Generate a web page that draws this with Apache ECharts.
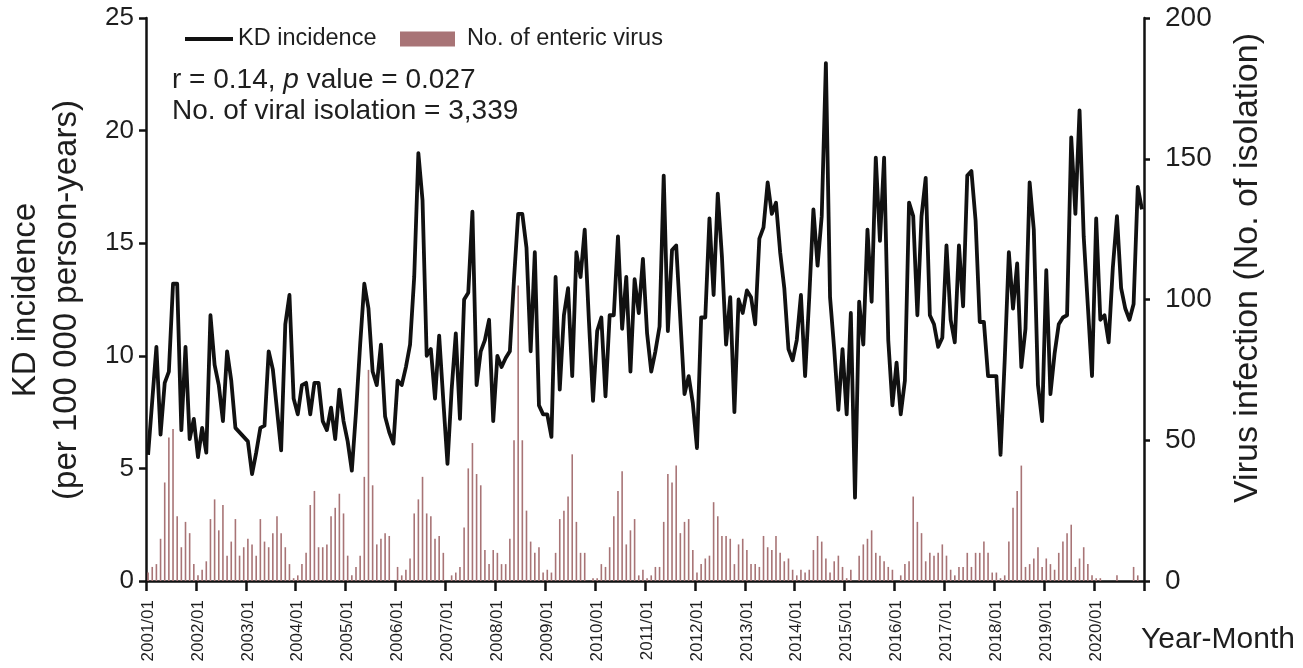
<!DOCTYPE html>
<html>
<head>
<meta charset="utf-8">
<script src="https://cdn.jsdelivr.net/npm/echarts@6/dist/echarts.min.js"></script>
<style>
html,body{margin:0;padding:0;background:#fff;}
#chart{width:1303px;height:668px;}
</style>
</head>
<body>
<div id="chart"></div>
<script>
// Years covered (monthly data, Jan..Dec each year)
const years = [2001,2002,2003,2004,2005,2006,2007,2008,2009,2010,2011,2012,2013,2014,2015,2016,2017,2018,2019,2020];
const months = ['01','02','03','04','05','06','07','08','09','10','11','12'];

// KD incidence (per 100 000 person-years), one row per year
const kdIncidence = [
  5.6, 8.0, 10.4, 6.5, 8.8, 9.3, 13.2, 13.2, 6.7, 10.4, 6.3, 7.2,
  5.5, 6.8, 5.7, 11.8, 9.6, 8.7, 7.1, 10.2, 8.9, 6.8, 6.6, 6.4,
  6.2, 4.75, 5.7, 6.8, 6.9, 10.2, 9.4, 7.6, 5.8, 11.4, 12.7, 8.1,
  7.4, 8.7, 8.8, 7.4, 8.8, 8.8, 7.1, 6.7, 7.7, 6.3, 8.5, 7.1,
  6.2, 4.9, 7.5, 10.5, 13.2, 12.1, 9.3, 8.7, 10.5, 7.3, 6.6, 6.1,
  8.9, 8.7, 9.5, 10.5, 13.5, 19.0, 16.9, 10.0, 10.3, 8.1, 10.9, 8.0,
  5.2, 8.5, 11.0, 7.2, 12.5, 12.8, 16.4, 8.7, 10.2, 10.7, 11.6, 7.1,
  10.0, 9.5, 9.9, 10.2, 13.4, 16.3, 16.3, 14.8, 10.2, 14.6, 7.8, 7.4,
  7.4, 6.4, 13.5, 8.5, 11.8, 13.0, 9.1, 14.6, 13.5, 15.6, 11.6, 8.0,
  11.1, 11.7, 8.2, 11.8, 11.8, 15.3, 11.2, 13.5, 9.3, 13.4, 11.9, 14.3,
  11.0, 9.3, 10.2, 11.3, 18.0, 11.1, 14.7, 14.9, 11.6, 8.3, 9.1, 7.9,
  5.9, 11.7, 11.7, 16.1, 12.7, 17.2, 14.4, 10.5, 12.6, 7.5, 12.5, 11.9,
  12.9, 12.6, 11.4, 15.2, 15.7, 17.7, 16.3, 16.8, 14.6, 13.0, 10.3, 9.8,
  10.7, 12.7, 9.1, 12.6, 16.5, 14.0, 16.2, 23.0, 12.6, 10.3, 7.6, 10.3,
  7.4, 11.9, 3.7, 12.4, 10.5, 15.6, 12.4, 18.8, 15.1, 18.8, 10.7, 7.8,
  9.7, 7.4, 8.9, 16.8, 16.2, 11.8, 16.2, 17.9, 11.8, 11.4, 10.4, 10.8,
  14.9, 11.6, 10.6, 14.9, 12.2, 18.0, 18.2, 16.0, 11.5, 11.5, 9.1, 9.1,
  9.1, 5.6, 9.8, 14.6, 12.1, 14.1, 9.5, 11.2, 17.7, 15.6, 8.7, 7.1,
  13.8, 8.3, 10.1, 11.4, 11.7, 11.8, 19.7, 16.3, 20.9, 15.3, 12.2, 9.1,
  16.1, 11.6, 11.8, 10.6, 13.9, 16.2, 13.0, 12.1, 11.6, 12.3, 17.5, 16.5
];

// No. of enteric virus isolations per month, one row per year
const virusCount = [
  3, 5, 6, 15, 35, 51, 54, 23, 12, 21, 17, 6,
  2, 4, 7, 22, 29, 18, 27, 9, 14, 22, 9, 12,
  15, 13, 9, 22, 14, 12, 17, 23, 17, 12, 6, 1,
  2, 6, 10, 27, 32, 12, 12, 13, 23, 26, 31, 24,
  9, 2, 5, 9, 37, 75, 34, 13, 15, 17, 16, 0,
  5, 2, 4, 8, 24, 29, 37, 24, 23, 15, 16, 10,
  0, 2, 3, 5, 19, 40, 49, 38, 34, 11, 6, 11,
  10, 6, 6, 15, 50, 105, 50, 25, 14, 10, 12, 3,
  4, 3, 10, 22, 25, 30, 45, 21, 10, 10, 0, 1,
  1, 6, 5, 12, 23, 32, 39, 13, 18, 22, 2, 4,
  1, 2, 5, 5, 21, 38, 35, 41, 17, 21, 22, 11,
  3, 6, 8, 9, 28, 23, 16, 16, 15, 6, 13, 15,
  11, 6, 6, 5, 16, 12, 11, 16, 10, 7, 8, 4,
  2, 4, 3, 4, 11, 16, 14, 8, 3, 7, 9, 5,
  1, 4, 0, 9, 13, 15, 18, 10, 9, 7, 5, 4,
  0, 2, 6, 7, 30, 21, 17, 7, 10, 9, 10, 13,
  9, 4, 2, 5, 5, 10, 5, 10, 10, 14, 10, 3,
  3, 1, 2, 14, 26, 32, 41, 5, 6, 8, 12, 5,
  8, 6, 4, 10, 14, 17, 20, 5, 8, 12, 6, 2,
  1, 1, 0, 0, 0, 2, 0, 0, 0, 5, 2, 0
];

const leftTicks = {min: 0, max: 25, interval: 5};
const rightTicks = {min: 0, max: 200, interval: 50};

const categories = [];
years.forEach(y => months.forEach(m => categories.push(y + '/' + m)));

const FONT = '"Liberation Sans", Arial, Helvetica, sans-serif';
const TXT = '#1e1e1e';
const BAR = '#a87476';

const chart = echarts.init(document.getElementById('chart'), null, {renderer: 'canvas'});
chart.setOption({
  animation: false,
  backgroundColor: '#ffffff',
  textStyle: {fontFamily: FONT, color: TXT},
  grid: {left: 146, right: 159, top: 18, bottom: 87, containLabel: false},
  legend: [
    {
      left: 185, top: 27, padding: 0,
      itemWidth: 48, itemHeight: 4,
      textStyle: {fontSize: 23.5, lineHeight: 24, color: TXT, fontFamily: FONT},
      data: [{name: 'KD incidence', icon: 'rect', itemStyle: {color: '#111'}}]
    },
    {
      left: 400, top: 27, padding: 0,
      itemWidth: 55, itemHeight: 15,
      textStyle: {fontSize: 23.5, lineHeight: 24, color: TXT, fontFamily: FONT, padding: [0, 0, 0, 7]},
      data: [{name: 'No. of enteric virus', icon: 'rect'}]
    }
  ],
  xAxis: {
    type: 'category',
    data: categories,
    boundaryGap: true,
    axisLine: {show: true, lineStyle: {color: '#111', width: 2.5}},
    axisTick: {show: true, length: 10, lineStyle: {color: '#111', width: 2.5},
      interval: (idx) => idx % 12 === 0},
    axisLabel: {rotate: 90, fontSize: 17, color: TXT, margin: 19, fontFamily: FONT,
      interval: (idx) => idx % 12 === 0},
    splitLine: {show: false}
  },
  yAxis: [
    {
      type: 'value', position: 'left',
      min: leftTicks.min, max: leftTicks.max, interval: leftTicks.interval,
      axisLine: {show: true, lineStyle: {color: '#111', width: 2.5}},
      axisTick: {show: true, length: 7, lineStyle: {color: '#111', width: 2.5}},
      axisLabel: {fontSize: 26, color: TXT, margin: 12, fontFamily: FONT},
      splitLine: {show: false}
    },
    {
      type: 'value', position: 'right',
      min: rightTicks.min, max: rightTicks.max, interval: rightTicks.interval,
      axisLine: {show: true, lineStyle: {color: '#111', width: 2.5}},
      axisTick: {show: true, length: 6, lineStyle: {color: '#111', width: 2.5}},
      axisLabel: {fontSize: 28, color: TXT, margin: 21, fontFamily: FONT},
      splitLine: {show: false}
    }
  ],
  graphic: [
    {type: 'text', x: 46, y: 300, rotation: Math.PI / 2,
      style: {text: 'KD incidence\n(per 100 000 person-years)', font: '33px ' + FONT,
        lineHeight: 41, fill: TXT, align: 'center', verticalAlign: 'middle'}},
    {type: 'text', x: 1248, y: 268, rotation: Math.PI / 2,
      style: {text: 'Virus infection (No. of isolation)', font: '34px ' + FONT,
        fill: TXT, align: 'center', verticalAlign: 'middle'}},
    {type: 'text', x: 172, y: 80,
      style: {text: 'r = 0.14, {i|p} value = 0.027', font: '28px ' + FONT, fill: TXT,
        verticalAlign: 'middle',
        rich: {i: {fontStyle: 'italic', fontSize: 28, fontFamily: FONT, fill: TXT}}}},
    {type: 'text', x: 172, y: 111,
      style: {text: 'No. of viral isolation = 3,339', font: '28px ' + FONT, fill: TXT,
        verticalAlign: 'middle'}},
    {type: 'text', x: 1141, y: 640,
      style: {text: 'Year-Month', font: '30px ' + FONT, fill: TXT, verticalAlign: 'middle'}}
  ],
  series: [
    {
      name: 'No. of enteric virus', type: 'bar', yAxisIndex: 1,
      data: virusCount, barWidth: 1.6,
      itemStyle: {color: BAR}, z: 1
    },
    {
      name: 'KD incidence', type: 'line', yAxisIndex: 0,
      data: kdIncidence, symbol: 'none', smooth: false,
      lineStyle: {color: '#111', width: 3.8, join: 'round'},
      itemStyle: {color: '#111'}, z: 3
    }
  ]
});
</script>
</body>
</html>
